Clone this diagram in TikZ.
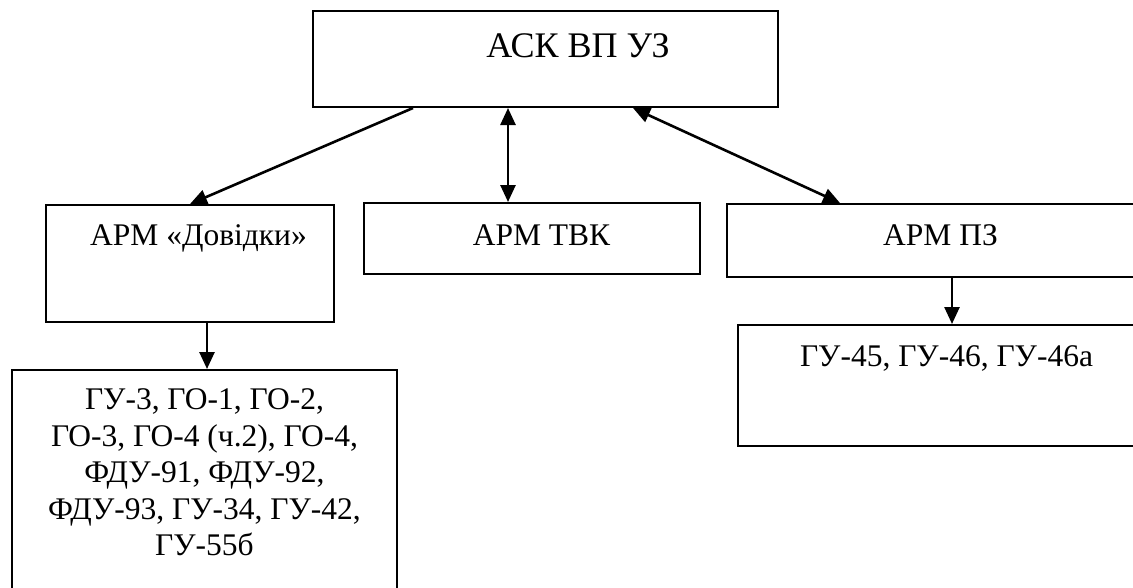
\documentclass[tikz,border=0pt]{standalone}
\usepackage{fontspec}
\setmainfont{Liberation Serif}
\usepackage{tikz}
\usetikzlibrary{arrows.meta}
\newcommand{\boxwidth}{2pt}
\newcommand{\linkwidth}{2.6pt}
\newcommand{\tip}{Triangle[length=17pt,width=15pt]}

\begin{document}
\begin{tikzpicture}[x=1pt,y=-1pt,
  panel/.style={draw,line width=\boxwidth,rectangle,inner sep=0pt},
  caption/.style={inner sep=0pt,anchor=base,font=\fontsize{31.5}{36.5}\selectfont},
  link/.style={line width=\linkwidth}]
\useasboundingbox (0,0) rectangle (1133,587);
\clip (0,0) rectangle (1133,587);
% boxes
\node[panel,minimum width=465,minimum height=96] (ask) at (545.5,59) {};
\node[panel,minimum width=288,minimum height=117] (dov) at (190,263.5) {};
\node[panel,minimum width=336,minimum height=71] (tvk) at (532,238.5) {};
\node[panel,minimum width=418,minimum height=73] (pz) at (936,240.5) {};
\node[panel,minimum width=407,minimum height=121] (gupz) at (941.5,385.5) {};
\node[panel,minimum width=385,minimum height=230] (gudov) at (204.5,485) {};
% texts
\node[caption,font=\fontsize{36}{41}\selectfont] (askt) at (578,57) {АСК ВП УЗ};
\node[caption] (dovt) at (198.5,245) {АРМ «Довідки»};
\node[caption] (tvkt) at (541.5,245) {АРМ ТВК};
\node[caption] (pzt) at (940.5,245) {АРМ ПЗ};
\node[caption] (gupzt) at (946.5,366) {ГУ-45, ГУ-46, ГУ-46а};
\node[caption,anchor=north,align=center] (gudovt) at (204.5,388.5)
  {ГУ-3, ГО-1, ГО-2,\\ГО-3, ГО-4 (ч.2), ГО-4,\\ФДУ-91, ФДУ-92,\\ФДУ-93, ГУ-34, ГУ-42,\\ГУ-55б};
% links
\draw[link,-{\tip}] ([xshift=-132.5pt]ask.south) -- (dov.north);
\draw[link,{\tip}-{\tip}] ([xshift=-24pt]tvk.north |- ask.south) -- ([xshift=-24pt]tvk.north);
\draw[link,{\tip}-{\tip}] ([xshift=87.5pt]ask.south) -- ([xshift=-96pt]pz.north);
\draw[link,-{\tip}] ([xshift=17pt]dov.south) -- ([xshift=17pt]dov.south |- gudov.north);
\draw[link,-{\tip}] ([xshift=16pt]pz.south) -- ([xshift=16pt]pz.south |- gupz.north);
\end{tikzpicture}
\end{document}
